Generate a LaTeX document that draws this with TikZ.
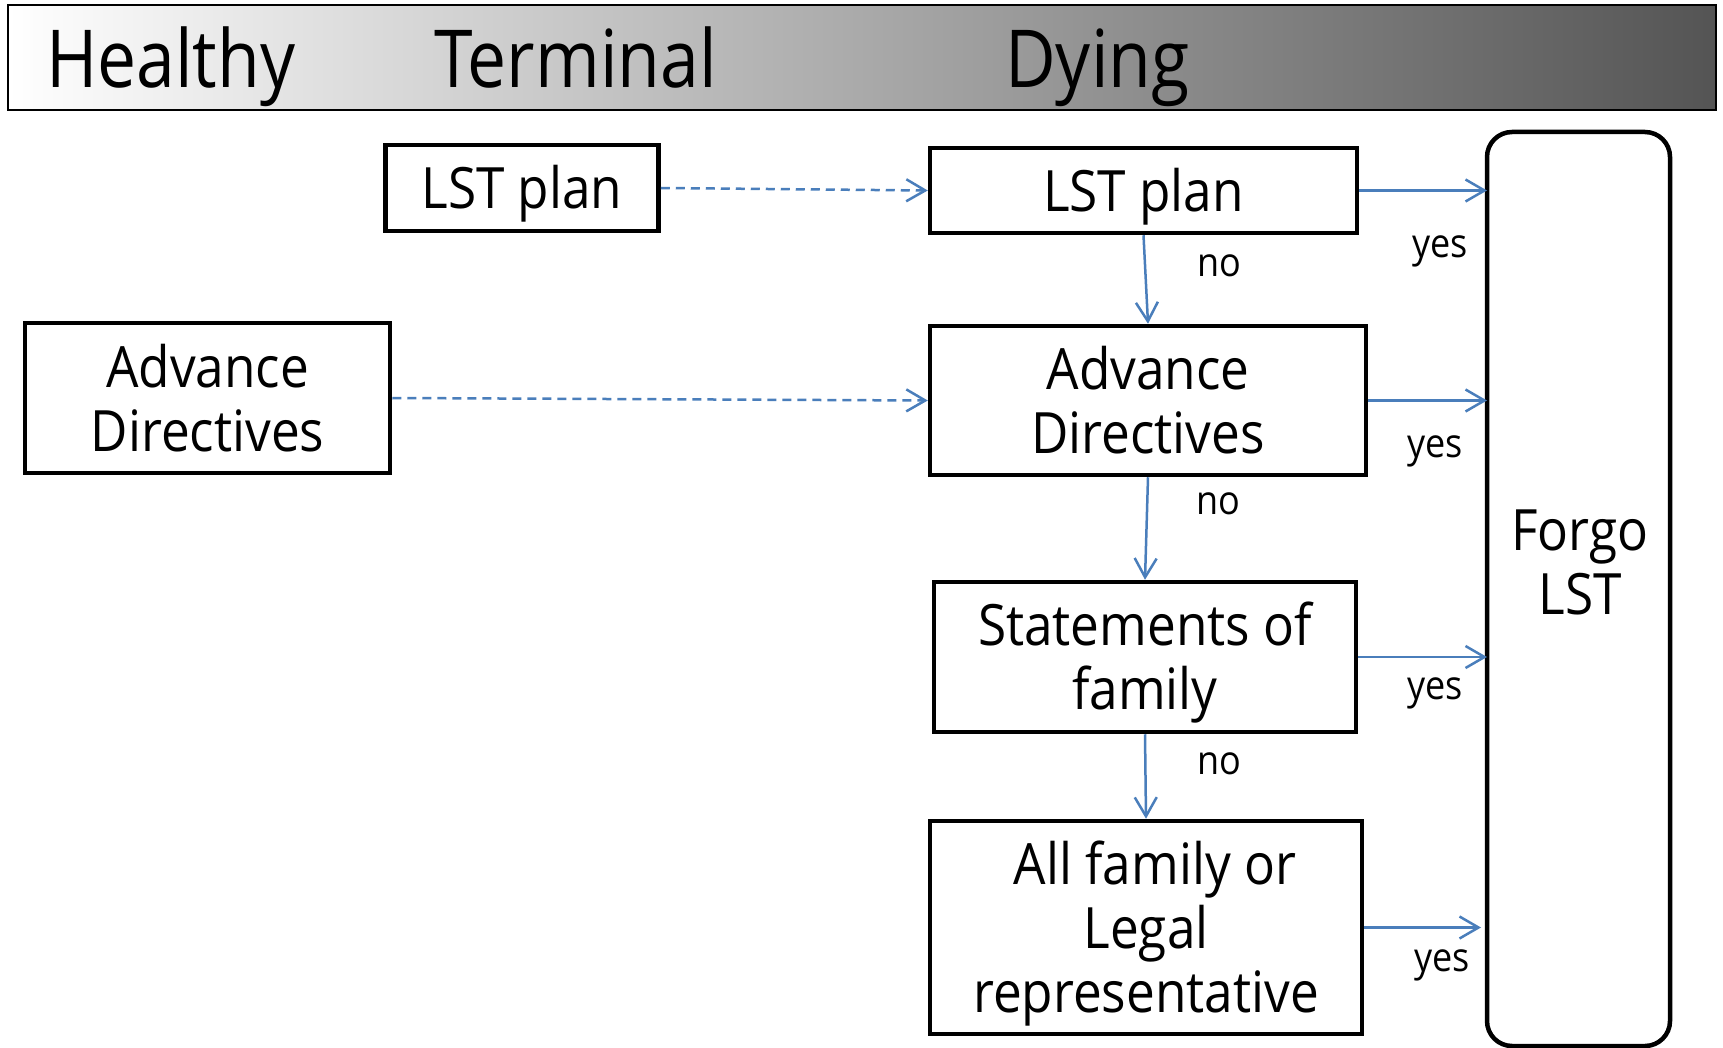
\documentclass[tikz,border=0pt]{standalone}
\usepackage{fontspec}
\setmainfont{Open Sans}[FakeStretch=0.9]
\newfontfamily\bannerfont{Open Sans}[FakeStretch=0.87]
\usetikzlibrary{arrows.meta}
\definecolor{arrblue}{HTML}{4A7EBB}
\tikzset{
  box/.style={draw=black, line width=4.5pt, fill=white, align=center, inner sep=0pt,
    font=\fontsize{57}{64}\selectfont},
  boxtext/.style={align=center, inner sep=0pt, font=\fontsize{57}{64}\selectfont, yshift=-6pt},
  arr/.style={draw=arrblue, line width=2.5pt, -{Straight Barb[length=19pt,width=22pt,line width=2.5pt]}},
  dasharr/.style={arr, dash pattern=on 9pt off 6pt},
  lbl/.style={font=\fontsize{40}{44}\selectfont, inner sep=0pt},
  bannertext/.style={font=\bannerfont\fontsize{80}{90}\selectfont, anchor=base west, inner sep=0pt}
}
\begin{document}
\begin{tikzpicture}[x=1pt,y=-1pt]
\useasboundingbox (0,0) rectangle (1723,1048);
% banner
\shade[left color=white, right color=black!67] (8,5) rectangle (1716,110);
\draw[line width=2.5pt] (8,5) rectangle (1716,110);
\node[bannertext] (healthy) at (46,88) {Healthy};
\node[bannertext] (terminal) at (434,88) {Terminal};
\node[bannertext] (dying) at (1005,88) {Dying};
% boxes
\node[box, minimum width=273pt, minimum height=86pt,
  label={[boxtext]center:LST plan}] (lst1) at (522,188) {};
\node[box, minimum width=427pt, minimum height=85pt,
  label={[boxtext]center:LST plan}] (lst2) at (1143.5,190.5) {};
\node[box, minimum width=365pt, minimum height=150pt] (ad1) at (207.5,398) {Advance\\Directives};
\node[box, minimum width=436pt, minimum height=149pt] (ad2) at (1148,400.5) {Advance\\Directives};
\node[box, minimum width=422pt, minimum height=150pt,
  label={[boxtext]center:{Statements of\\family}}] (stm) at (1145,657) {};
\node[box, minimum width=432pt, minimum height=213pt,
  label={[boxtext]center:{\hspace*{18pt}All family or\\Legal\\representative}}] (all) at (1146,927.5) {};
\draw[line width=4.5pt, rounded corners=25pt, fill=white] (1487,132) rectangle (1670,1046);
\coordinate (forgoW) at (1487,590);
\node[box, draw=none, fill=none] (forgo) at (1580,562) {Forgo\\LST};
% arrows
\draw[dasharr] (lst1.east) -- (lst2.west);
\draw[dasharr] (ad1.east) -- (ad2.west);
\draw[arr] (lst2.south) -- (ad2.north);
\draw[arr] (ad2.south) -- (stm.north);
\draw[arr] (stm.south) -- (all.north);
\draw[arr] (lst2.east) -- (lst2.east -| forgoW);
\draw[arr] (ad2.east) -- (ad2.east -| forgoW);
\draw[arr] (stm.east) -- (stm.east -| forgoW);
\draw[arr, shorten >=6pt] (all.east) -- (all.east -| forgoW);
% labels
\node[lbl] (no1) at (1219,266) {no};
\node[lbl] (no2) at (1218,504) {no};
\node[lbl] (no3) at (1219,764) {no};
\node[lbl] (yes1) at (1440,251) {yes};
\node[lbl] (yes2) at (1435,451) {yes};
\node[lbl] (yes3) at (1435,693) {yes};
\node[lbl] (yes4) at (1442,965) {yes};
\end{tikzpicture}
\end{document}
